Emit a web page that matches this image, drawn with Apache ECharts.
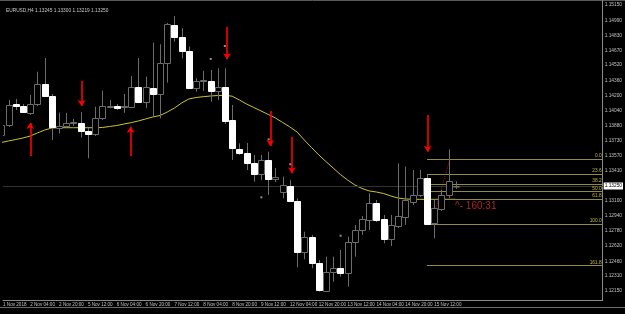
<!DOCTYPE html>
<html>
<head>
<meta charset="utf-8">
<script src="https://cdn.jsdelivr.net/npm/echarts@6/dist/echarts.min.js"></script>
<style>
  html, body { margin: 0; padding: 0; background: #000; }
  #chart { width: 625px; height: 314px; }
</style>
</head>
<body>
<div id="chart"></div>
<script>
"use strict";

/* ── 数据：EURUSD H4 ── */
const symbolName = "EURUSD,H4";

const bars = [0,1,2,3,4,5,6,7,8,9,10,11,12,13,14,15,16,17,18,19,20,21,22,23,24,25,26,27,28,29,30,31,
  32,33,34,35,36,37,38,39,40,41,42,43,44,45,46,47,48,49,50,51,52,53,54,55,56,57,58,59,60,61,62,63];

const opens = [1.13786,1.13891,1.14111,1.14093,1.14020,1.14108,1.14321,1.14195,1.13862,1.13883,1.13912,1.13915,
  1.13831,1.13796,1.13961,1.14080,1.14090,1.14080,1.14083,1.14293,1.14135,1.14276,1.14216,1.14538,1.14941,1.14818,
  1.14668,1.14276,1.14349,1.14356,1.14251,1.14286,1.13943,1.13639,1.13600,1.13495,1.13376,1.13523,1.13320,1.13190,
  1.13250,1.13096,1.12560,1.12718,1.12438,1.12151,1.12344,1.12386,1.12333,1.12665,1.12788,1.12893,1.13068,1.12900,
  1.12690,1.12830,1.12928,1.13085,1.13156,1.13331,1.12858,1.13005,1.13156,1.13245];

const closes = [1.13891,1.14101,1.14095,1.14030,1.14111,1.14321,1.14195,1.13873,1.13880,1.13908,1.13922,1.13831,
  1.13796,1.13967,1.14090,1.14090,1.14072,1.14095,1.14293,1.14135,1.14286,1.14216,1.14538,1.14951,1.14818,1.14668,
  1.14276,1.14353,1.14363,1.14251,1.14286,1.13936,1.13646,1.13600,1.13495,1.13376,1.13523,1.13324,1.13348,1.13261,
  1.13096,1.12560,1.12718,1.12438,1.12158,1.12344,1.12386,1.12333,1.12665,1.12788,1.12900,1.13068,1.12893,1.12694,
  1.12841,1.12935,1.13103,1.13156,1.13331,1.12851,1.13016,1.13156,1.13306,1.13250];

const lows = [1.13754,1.13870,1.14048,1.14017,1.13996,1.14090,1.14185,1.13733,1.13803,1.13870,1.13880,1.13761,
  1.13541,1.13775,1.13943,1.14066,1.14048,1.14017,1.14074,1.14122,1.14069,1.13978,1.13961,1.14335,1.14765,1.14591,
  1.14269,1.14240,1.14248,1.14135,1.14153,1.13901,1.13523,1.13576,1.13418,1.13295,1.13313,1.13156,1.13292,1.13121,
  1.13093,1.12396,1.12480,1.12386,1.12140,1.12148,1.12245,1.12298,1.12193,1.12508,1.12736,1.12788,1.12872,1.12648,
  1.12620,1.12809,1.12841,1.13051,1.13135,1.12846,1.12701,1.12988,1.13121,1.13219];

const highs = [1.13943,1.14153,1.14164,1.14111,1.14206,1.14450,1.14594,1.14216,1.14020,1.14017,1.13954,1.14027,
  1.13859,1.14083,1.14251,1.14153,1.14111,1.14216,1.14405,1.14594,1.14398,1.14755,1.14738,1.14962,1.15035,1.14906,
  1.14713,1.14381,1.14458,1.14468,1.14486,1.14486,1.14101,1.13698,1.13702,1.13576,1.13576,1.13610,1.13439,1.13348,
  1.13313,1.13121,1.12770,1.12736,1.12473,1.12508,1.12508,1.12578,1.12718,1.12841,1.12935,1.13173,1.13103,1.12946,
  1.12946,1.13488,1.13453,1.13418,1.13418,1.13366,1.13103,1.13208,1.13635,1.13300];

// 移动平均线
const maValues = [1.13707,1.13723,1.13738,1.13754,1.13775,1.13807,1.13838,1.13859,1.13862,1.13862,1.13862,1.13862,
  1.13862,1.13862,1.13864,1.13875,1.13885,1.13901,1.13915,1.13933,1.13954,1.13975,1.13990,1.14027,1.14069,1.14122,
  1.14164,1.14179,1.14188,1.14195,1.14200,1.14202,1.14193,1.14153,1.14111,1.14074,1.14038,1.14001,1.13964,1.13917,
  1.13870,1.13817,1.13733,1.13654,1.13576,1.13507,1.13439,1.13371,1.13313,1.13261,1.13224,1.13198,1.13187,1.13171,
  1.13145,1.13124,1.13114,1.13110,1.13110,1.13110,1.13110,1.13110,1.13110,1.13110];

// 时间轴标签（每 4 根 K 线）
const timeTickBars = [0.23,4,8,12,16,20,24,28,32,36,40,44,48,52,56,60];
const timeLabels = ["1 Nov 2018","2 Nov 04:00","2 Nov 20:00","5 Nov 12:00","6 Nov 04:00","6 Nov 20:00",
  "7 Nov 12:00","8 Nov 04:00","8 Nov 20:00","9 Nov 12:00","12 Nov 04:00","12 Nov 20:00","13 Nov 12:00",
  "14 Nov 04:00","14 Nov 20:00","15 Nov 12:00"];

// 价格轴刻度
const priceTicks = [1.1515,1.1499,1.1483,1.1467,1.1452,1.1436,1.1420,1.1404,1.1388,1.1373,1.1357,1.1341,
  1.1310,1.1294,1.1278,1.1262,1.1246,1.1231,1.1215];

// 斐波那契回撤
const fiboNames  = ["0.0","23.6","38.2","50.0","61.8","100.0","161.8"];
const fiboPrices = [1.13530,1.13373,1.13268,1.13190,1.13110,1.12848,1.12413];
const fiboStartBar = 59;
const fiboTrend = [[59.65, 1.12861], [62.14, 1.13523]];

// 红色箭头 [bar, 起点价格, 箭头价格]
const arrows = [
  [4.01, 1.13565, 1.13912],
  [11.12, 1.14356, 1.14090],
  [17.92, 1.13565, 1.13873],
  [31.29, 1.14923, 1.14580],
  [37.28, 1.14038, 1.13670],
  [40.27, 1.13768, 1.13383],
  [59.10, 1.13996, 1.13610]
];

// 小圆点标记
const dots = [[29.03,1.14584],[30.98,1.14720],[36.05,1.13131],[37.06,1.13740],[40.05,1.13478],[47.03,1.12728]];

const timerText = "^- 160:31";
const timerPos = [62.9, 1.13037];

const X_MIN = 0.23, X_MAX = 83.36;
const Y_MIN = 1.12053, Y_MAX = 1.15203;

const FONT = "Liberation Sans";
const WICK = "#6c6c6c";
const BULL_EDGE = "#6c6c6c";

/* ── K 线绘制 ── */
function renderCandle(params, api) {
  const x = api.value(0);
  const o = api.value(1), c = api.value(2), lo = api.value(3), hi = api.value(4);
  const pO = api.coord([x, o]), pC = api.coord([x, c]);
  const pL = api.coord([x, lo]), pH = api.coord([x, hi]);
  const cx = Math.round(pO[0]) + 0.5;
  const top = Math.round(Math.min(pO[1], pC[1])) + 0.5;
  const bot = Math.round(Math.max(pO[1], pC[1])) + 0.5;
  const bull = c >= o;
  return {
    type: "group",
    children: [
      { type: "line", shape: { x1: cx, y1: pH[1], x2: cx, y2: pL[1] }, style: { stroke: WICK, lineWidth: 1 } },
      {
        type: "rect",
        shape: { x: cx - 3, y: top, width: 6, height: Math.max(bot - top, 0.6) },
        style: { fill: bull ? "#000" : "#fff", stroke: bull ? BULL_EDGE : "#fff", lineWidth: 1 }
      }
    ]
  };
}

const last = bars.length - 1;
const header = symbolName + " " + [opens[last], highs[last], lows[last], closes[last]].map(v => v.toFixed(5)).join(" ");

const chart = echarts.init(document.getElementById("chart"));

chart.setOption({
  backgroundColor: "#000",
  animation: false,
  title: {
    text: header, left: 1, top: 3,
    textStyle: { color: "#c8c8c8", fontSize: 4.8, fontWeight: "normal", fontFamily: FONT }
  },
  grid: { left: 0, right: 14, top: 0, bottom: 14 },
  xAxis: {
    type: "value", min: X_MIN, max: X_MAX,
    axisLine: { show: true, lineStyle: { color: "#8a8a8a", width: 1 } },
    axisTick: { show: false },
    splitLine: { show: false },
    axisLabel: {
      customValues: timeTickBars,
      formatter: v => timeLabels[Math.round(v / 4)] || "",
      color: "#c0c0c0", fontSize: 4.6, fontFamily: FONT, align: "left", margin: 2,
      hideOverlap: false
    }
  },
  yAxis: {
    type: "value", position: "right", min: Y_MIN, max: Y_MAX, scale: true,
    axisLine: { show: true, lineStyle: { color: "#8a8a8a", width: 1 } },
    axisTick: { show: false },
    splitLine: { show: false },
    axisLabel: {
      customValues: priceTicks,
      formatter: v => v.toFixed(5),
      color: "#c0c0c0", fontSize: 4.8, fontFamily: FONT, margin: 2, hideOverlap: false
    }
  },
  graphic: [
    { type: "line", shape: { x1: 0, y1: 0.5, x2: 625, y2: 0.5 }, style: { stroke: "#5a5a5a", lineWidth: 1 } },
    { type: "line", shape: { x1: 0, y1: 307.5, x2: 625, y2: 307.5 }, style: { stroke: "#6a6a6a", lineWidth: 1 } }
  ],
  series: [
    {
      name: "MA", type: "line", data: bars.map((b, i) => [b, maValues[i]]),
      symbol: "none", smooth: false, clip: true, z: 3,
      lineStyle: { color: "#cbc236", width: 1 },
      markLine: {
        silent: true, symbol: "none", precision: 5,
        lineStyle: { color: "#333", type: "solid", width: 1 },
        label: {
          position: "end", distance: 1, formatter: () => closes[last].toFixed(5),
          backgroundColor: "#fff", color: "#000", fontSize: 4.8, fontFamily: FONT, padding: [1, 1]
        },
        data: [{ yAxis: closes[last] }]
      }
    },
    {
      name: "Fibo", type: "line", data: fiboTrend,
      symbol: "none", z: 4,
      lineStyle: { color: "#a01818", width: 1, type: "dotted" },
      markLine: {
        silent: true, symbol: "none", precision: 5,
        lineStyle: { color: "#8f8c4a", type: "solid", width: 1 },
        label: {
          position: "insideEndTop", distance: 1, formatter: p => p.name,
          color: "#c8b840", fontSize: 4.8, fontFamily: FONT
        },
        data: fiboPrices.map((p, i) => [
          { name: fiboNames[i], coord: [fiboStartBar, p] },
          { name: fiboNames[i], coord: [X_MAX, p] }
        ])
      }
    },
    {
      name: "Candles", type: "custom", renderItem: renderCandle, clip: true, z: 5,
      data: bars.map((b, i) => [b, opens[i], closes[i], lows[i], highs[i]])
    },
    {
      name: "Arrows", type: "lines", coordinateSystem: "cartesian2d", z: 6,
      symbol: ["none", "arrow"], symbolSize: 6,
      lineStyle: { color: "#ff0000", width: 1.6, opacity: 1 },
      data: arrows.map(a => ({ coords: [[a[0], a[1]], [a[0], a[2]]] }))
    },
    {
      name: "Dots", type: "scatter", data: dots, z: 6,
      symbol: "rect", symbolSize: 2, itemStyle: { color: "#c8a8b8" }
    },
    {
      name: "Timer", type: "scatter", data: [timerPos], z: 7,
      symbolSize: 0,
      label: {
        show: true, position: "right", distance: 0, formatter: timerText,
        color: "#d83030", fontSize: 10, fontFamily: FONT
      }
    }
  ]
});
</script>
</body>
</html>
